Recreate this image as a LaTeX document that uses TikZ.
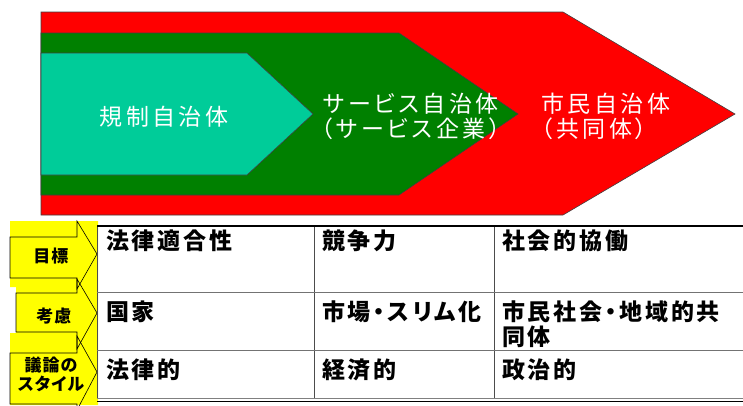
\documentclass[tikz,border=0pt]{standalone}
\usepackage{fontspec}
\newfontfamily\jp[LetterSpace=12,RawFeature=+palt]{Noto Sans CJK JP}
\newfontfamily\jpw[LetterSpace=15,RawFeature=+palt]{Noto Sans CJK JP}
\newfontfamily\jplab[LetterSpace=6,RawFeature=+palt]{Noto Sans CJK JP}
\definecolor{cred}{RGB}{255,0,0}
\definecolor{cgreen}{RGB}{0,128,0}
\definecolor{cteal}{RGB}{0,204,153}
\definecolor{cyel}{RGB}{255,255,0}
\tikzset{
  band/.style={draw=black!75, line width=0.6pt},
  wtext/.style={text=white, inner sep=0pt, font=\jpw\fontsize{23}{25}\selectfont},
  ttext/.style={text=black, inner sep=0pt, anchor=west, align=left, font=\jp\bfseries\fontsize{23}{25}\selectfont},
  ylab/.style={text=black, inner sep=0pt, align=center, font=\jplab\bfseries\fontsize{17}{19}\selectfont},
  yarrow/.style={draw=black, line width=0.6pt},
  grid/.style={draw=black!70, line width=0.8pt}
}
\begin{document}
\begin{tikzpicture}[x=1pt,y=-1pt]
\useasboundingbox (0,0) rectangle (743,405);
\clip (0,0) rectangle (743,405);
% top chevrons
\fill[cred] (41,12) -- (563,12) -- (735,114) -- (563,215) -- (41,215) -- cycle;
\draw[band] (41,12) -- (563,12) -- (735,114) -- (563,215) -- (41,215) -- cycle;
\path[band, fill=cgreen] (41,33) -- (399,33) -- (518,114) -- (399,195) -- (41,195) -- cycle;
\path[band, fill=cteal] (41,53) -- (247,53) -- (313,114) -- (247,175) -- (41,175) -- cycle;
\node[wtext] (kisei) at (164,117) {規制自治体};
\node[wtext, align=center] (service) at (411,116) {サービス自治体\\（サービス企業）};
\node[wtext, align=left, anchor=west] (shimin) at (541,116) {市民自治体\\（共同体）};
% yellow column
\fill[cyel] (10,221) -- (98,221) -- (98,405) -- (10,405) -- (10,333) -- (16,333) -- (16,287) -- (10,287) -- cycle;
\draw[yarrow] (10,237) -- (77,237) -- (77,221) -- (97,254) -- (77,289) -- (77,278) -- (10,278) -- cycle;
\draw[yarrow] (16,293) -- (77,293) -- (77,279) -- (97,313) -- (77,349) -- (77,332) -- (16,332) -- cycle;
\draw[yarrow] (10,353) -- (77,353) -- (77,336) -- (97,372) -- (77,410) -- (77,404) -- (10,404) -- cycle;
\node[ylab] (mokuhyo) at (51,256) {目標};
\node[ylab] (koryo) at (54,316) {考慮};
\node[ylab] (giron) at (51,374) {議論の\\スタイル};
% table
\draw[grid] (97,226) -- (97,399);
\draw[grid] (314,226) -- (314,399);
\draw[grid] (494,226) -- (494,399);
\draw[draw=black!55, line width=0.8pt] (97,292) -- (743,292);
\draw[draw=black!55, line width=0.8pt] (97,350) -- (743,350);
\draw[draw=black, line width=1.6pt] (97,226) -- (743,226);
\draw[draw=black!50, line width=0.8pt] (97,398.5) -- (743,398.5);
\draw[draw=black, line width=1pt] (97,401) -- (743,401);
\node[ttext] (r1c1) at (106,241) {法律適合性};
\node[ttext] (r1c2) at (322,241) {競争力};
\node[ttext] (r1c3) at (502,241) {社会的協働};
\node[ttext] (r2c1) at (106,312) {国家};
\node[ttext] (r2c2) at (322,312) {市場・スリム化};
\node[ttext] (r2c3) at (502,324.5) {市民社会・地域的共\\同体};
\node[ttext] (r3c1) at (106,370) {法律的};
\node[ttext] (r3c2) at (322,370) {経済的};
\node[ttext] (r3c3) at (502,370) {政治的};
\end{tikzpicture}
\end{document}
